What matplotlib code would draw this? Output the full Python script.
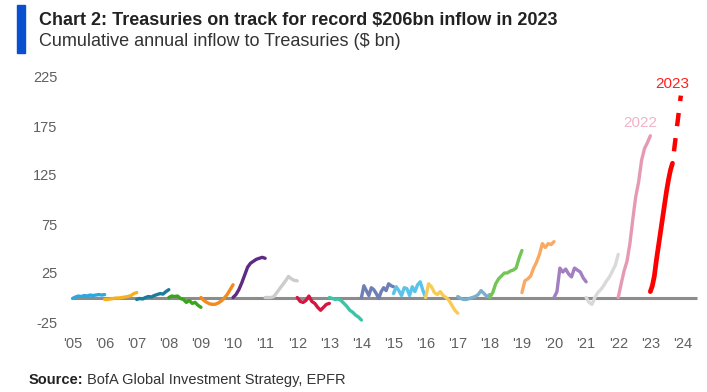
import numpy as np
import matplotlib
matplotlib.use("Agg")
import matplotlib.pyplot as plt
from matplotlib.patches import Rectangle

plt.rcParams['font.family'] = ['Liberation Sans', 'DejaVu Sans']
plt.rcParams['axes.unicode_minus'] = False

# cumulative annual inflow to Treasuries ($bn), sampled through each year
flows = {
  2005: [-1, 0.5, 1.5, 1, 2, 1.5, 2.5, 2, 2.5, 3, 2.5, 3],
  2006: [-2, -2, -1.5, -1, -0.5, -0.5, 0, 0.5, 1, 2, 4, 5],
  2007: [-2, -1, -1.5, 0, 1, 0.5, 2, 3, 4, 3.5, 6, 8],
  2008: [0, 1.5, 1, 1.5, -1, -2, -5, -3, -6, -5, -8, -10],
  2009: [0, -3, -5, -6.5, -7, -6.8, -5.5, -3.5, -0.5, 3, 8, 13],
  2010: [0, 3, 8, 15, 23, 31, 35, 37, 39, 40, 41, 40],
  2011: [0, 0, 0, 1, 5, 9, 13, 17, 21.5, 19, 17.5, 17],
  2012: [0, -4, -5, -3, 1.5, -4, -6, -10, -13, -10, -7, -6],
  2013: [0, -1, -2, -1.5, -3, -6, -9, -13, -15, -18, -20, -23],
  2014: [0, 12, 7, 2, 10, 8, 4, -1, 6, 10, 7, 14, 12, 11],
  2015: [4, 11, 7, 2, 10, 9, 2, 11, 6, 13, 16, 7, 0],
  2016: [0, 14, 11, 5, 3, 6, 2, 0, -3, -8, -13, -16],
  2017: [1, -1, -2, -2, -1, 0, 1, 3, 7, 4, 1, 3],
  2018: [0, 5, 14, 19, 22, 25, 25, 27, 28, 30, 40, 48],
  2019: [5, 17, 19, 22, 30, 36, 44, 55, 51, 55, 54, 57],
  2020: [0, 6, 30, 26, 29, 24, 21, 30, 28, 26, 20, 16],
  2021: [0, -5, -7, 0, 5, 8, 12, 17, 21, 27, 33, 44],
  2022: [0, 14, 27, 37, 55, 80, 103, 118, 140, 152, 158, 165],
  2023: [6, 12, 22, 38, 52, 66, 80, 94, 108, 120, 130, 137],
}
ytd_2023 = 0.69            # share of 2023 covered by data
proj_2023 = [137, 206]     # run-rate projection to year end
proj_end = 0.95

colors = {
  2005: "#2aa8df", 2006: "#f4b223", 2007: "#1b7b9b", 2008: "#3aa41c",
  2009: "#f28a1e", 2010: "#5e2a84", 2011: "#cccccc", 2012: "#d5163f",
  2013: "#3dc3a6", 2014: "#6f7fb5", 2015: "#5bc3ea", 2016: "#f7cb55",
  2017: "#7aaecb", 2018: "#74c556", 2019: "#f8aa64", 2020: "#a17fc1",
  2021: "#d9d9d9", 2022: "#e699b3", 2023: "#ff0000",
}

years = list(range(2005, 2025))
year_labels = ["'" + str(y)[2:] for y in years]
y_ticks = [-25, 25, 75, 125, 175, 225]

fig = plt.figure(figsize=(7.07, 3.92), dpi=100)
ax = fig.add_axes([61.3 / 707, 60.2 / 392, 642 / 707, 269.5 / 392])

# zero line
ax.plot([2005, 2024.45], [0, 0], color="#8c8c8c", lw=2.2, zorder=1, solid_capstyle="butt")

for yr, vals in flows.items():
  span = ytd_2023 if yr == 2023 else 1.0
  xs = np.linspace(yr, yr + span, len(vals))
  lw = 3.4 if yr == 2023 else 2.4
  ax.plot(xs, vals, color=colors[yr], lw=lw, zorder=3,
          solid_capstyle="round", solid_joinstyle="round")

ax.plot([2023 + ytd_2023, 2023 + proj_end], proj_2023, color=colors[2023], lw=3.2,
        linestyle=(3.0, (3.0, 2.7)), zorder=3)

ax.text(2022.68, 178, "2022", color="#f0b4c8", fontsize=11, ha="center", va="center")
ax.text(2023.67, 218, "2023", color="#ff2020", fontsize=11, ha="center", va="center")

ax.set_xlim(2004.65, 2024.65)
ax.set_ylim(-35, 240)
ax.set_xticks(years)
ax.set_xticklabels(year_labels)
ax.set_yticks(y_ticks)
ax.tick_params(axis="both", length=0, labelsize=10.5, labelcolor="#606060")
ax.tick_params(axis="y", pad=3)
ax.tick_params(axis="x", pad=4)
for s in ax.spines.values():
  s.set_visible(False)

# header
fig.patches.append(Rectangle((17 / 707, 1 - 53 / 392), 8 / 707, 48 / 392,
                             transform=fig.transFigure, color="#0a4fd0"))
fig.text(39 / 707, 1 - 25 / 392, "Chart 2: Treasuries on track for record $206bn inflow in 2023",
         fontsize=13, fontweight="bold", color="#222222", va="baseline")
fig.text(39 / 707, 1 - 46.5 / 392, "Cumulative annual inflow to Treasuries ($ bn)",
         fontsize=13, color="#333333", va="baseline")

# source
src_lbl = fig.text(29 / 707, 1 - 384 / 392, "Source:", fontsize=10.5, fontweight="bold",
                   color="#222222", va="baseline")
fig.canvas.draw()
bb = src_lbl.get_window_extent()
fig.text((bb.x1 + 3) / 707, 1 - 384 / 392, "BofA Global Investment Strategy, EPFR",
         fontsize=10.5, color="#333333", va="baseline")

fig.savefig("out.png", dpi=100)
